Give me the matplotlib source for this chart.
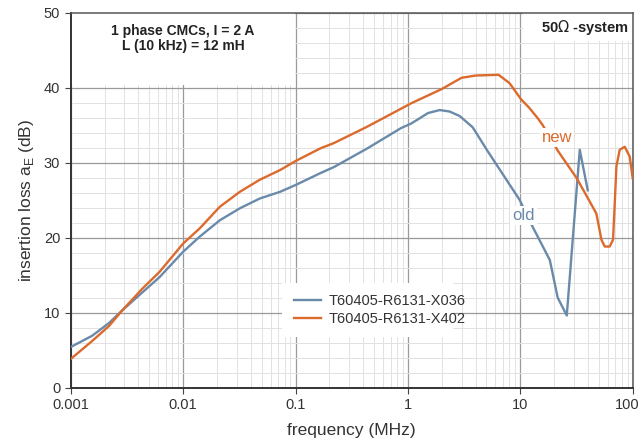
import numpy as np
import matplotlib.pyplot as plt
from matplotlib.patches import Rectangle
from matplotlib.transforms import ScaledTranslation
from matplotlib.ticker import FixedLocator, NullFormatter, MultipleLocator

plt.rcParams['font.family'] = ['Liberation Sans', 'DejaVu Sans']

# old part: T60405-R6131-X036
f_old = [0.001, 0.00155, 0.00219, 0.00288, 0.00435, 0.00615, 0.01, 0.014, 0.0212,
         0.032, 0.048, 0.073, 0.1, 0.167, 0.22, 0.437, 0.87, 1.07, 1.51, 1.92,
         2.35, 2.89, 3.77, 5.03, 9.88, 12.6, 18.3, 21.5, 25.9, 33.8, 39.8]
db_old = [5.4, 6.9, 8.6, 10.3, 12.7, 14.7, 18.1, 20.1, 22.3,
          23.9, 25.2, 26.1, 27.0, 28.6, 29.4, 31.9, 34.6, 35.2, 36.6, 37.0,
          36.8, 36.2, 34.7, 31.7, 25.0, 21.7, 17.0, 12.0, 9.6, 31.7, 26.3]

# new part: T60405-R6131-X402
f_new = [0.001, 0.00155, 0.00219, 0.00288, 0.00435, 0.00615, 0.01, 0.014, 0.0212,
         0.032, 0.048, 0.073, 0.1, 0.167, 0.22, 0.437, 1.07, 2.0, 3.0, 4.0,
         6.4, 8.0, 10.2, 12.0, 14.3, 15.8, 21.5, 31.8, 47.5, 52.7, 56.4, 62.4,
         66.8, 69.2, 71.6, 76.6, 84.9, 94.0, 100]
db_new = [3.8, 6.2, 8.2, 10.3, 13.2, 15.4, 19.2, 21.2, 24.1,
          26.1, 27.7, 29.0, 30.2, 31.9, 32.6, 34.8, 37.9, 39.8, 41.3, 41.6,
          41.7, 40.6, 38.4, 37.3, 35.9, 35.0, 31.6, 27.9, 23.2, 19.7, 18.8, 18.8,
          19.7, 24.5, 29.5, 31.7, 32.1, 30.8, 27.9]

c_old = '#6a8aaa'
c_new = '#dc6a2c'
txt = '#333333'

fig = plt.figure(figsize=(6.43, 4.48), dpi=100)
ax = fig.add_axes([0.110, 0.135, 0.874, 0.837])

ax.set_xscale('log')
ax.set_xlim(0.001, 100)
ax.set_ylim(0, 50)

ax.yaxis.set_major_locator(MultipleLocator(10))
ax.yaxis.set_minor_locator(MultipleLocator(2))
ax.xaxis.set_major_locator(FixedLocator([0.001, 0.01, 0.1, 1, 10, 100]))
ax.xaxis.set_minor_locator(FixedLocator([m * 10.0 ** e for e in range(-3, 2) for m in range(2, 10)]))
ax.xaxis.set_minor_formatter(NullFormatter())
ax.set_xticklabels(['0.001', '0.01', '0.1', '1', '10', '100'])

ax.grid(which='major', color='#9a9a9a', lw=0.9, zorder=0)
ax.grid(which='minor', color='#e2e2e2', lw=0.7, zorder=0)
ax.set_axisbelow(True)

# white boxes behind the annotations
ax.add_patch(Rectangle((0.001, 40.4), 0.097, 9.6, facecolor='white', edgecolor='none', zorder=1))
ax.add_patch(Rectangle((10.5, 46.2), 89.5, 3.8, facecolor='white', edgecolor='none', zorder=1))

ax.plot(f_old, db_old, color=c_old, lw=1.7, label='T60405-R6131-X036', zorder=3)
ax.plot(f_new, db_new, color=c_new, lw=1.7, label='T60405-R6131-X402', zorder=3)

ax.text(0.01, 47.6, '1 phase CMCs, I = 2 A', ha='center', va='center', fontsize=10,
        fontweight='bold', color='#222222', zorder=4)
ax.text(0.01, 45.6, 'L (10 kHz) = 12 mH', ha='center', va='center', fontsize=10,
        fontweight='bold', color='#222222', zorder=4)
ax.text(93, 48.0, '50$\\Omega$ -system', ha='right', va='center', fontsize=10.5,
        fontweight='bold', color='#222222', zorder=4)

ax.text(10.7, 22.9, 'old', ha='center', va='center', fontsize=12, color=c_old,
        zorder=4, bbox=dict(facecolor='white', edgecolor='none', pad=1.5))
ax.text(21.1, 33.3, 'new', ha='center', va='center', fontsize=12, color=c_new,
        zorder=4, bbox=dict(facecolor='white', edgecolor='none', pad=1.5))

leg = ax.legend(loc='lower left', bbox_to_anchor=(0.363, 0.114, 0.33, 0.16), mode='expand',
                frameon=True, fancybox=False, fontsize=10.5, handlelength=1.9,
                borderpad=0.8, labelspacing=0.25, handletextpad=0.5)
leg.get_frame().set_edgecolor('none')
leg.get_frame().set_facecolor('white')
leg.get_frame().set_alpha(1)
for t in leg.get_texts():
    t.set_color(txt)

for s in ax.spines.values():
    s.set_color('#555555')
    s.set_linewidth(1.1)
ax.spines['left'].set_color('#333333')
ax.spines['bottom'].set_color('#333333')
ax.spines['left'].set_linewidth(1.4)
ax.spines['bottom'].set_linewidth(1.4)

ax.tick_params(which='major', direction='out', length=4, color='#444444',
               labelsize=10.5, labelcolor=txt)
ax.tick_params(which='minor', length=0)

# keep the last x label inside the figure
last = ax.get_xticklabels()[-1]
last.set_transform(last.get_transform() + ScaledTranslation(-4 / 72, 0, fig.dpi_scale_trans))

ax.set_xlabel('frequency (MHz)', fontsize=12.5, color=txt, labelpad=8)
ax.set_ylabel('insertion loss a$_\\mathregular{E}$ (dB)', fontsize=12.5, color=txt, labelpad=6)

fig.savefig('out.png', dpi=100)
